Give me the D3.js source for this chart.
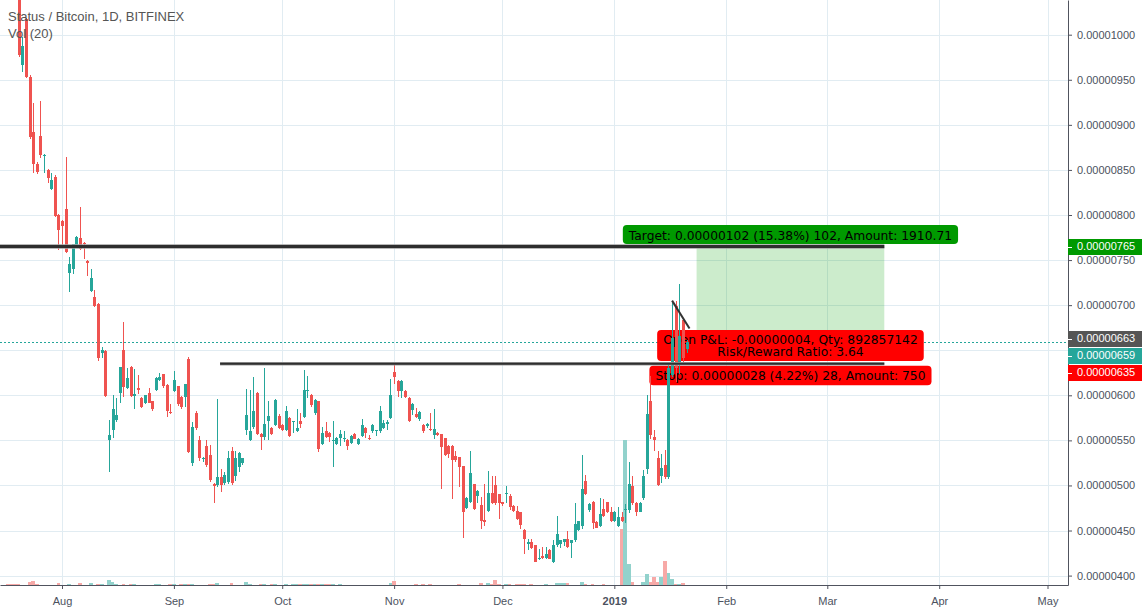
<!DOCTYPE html>
<html><head><meta charset="utf-8">
<script src="https://cdn.jsdelivr.net/npm/d3@7"></script>
<style>
html,body{margin:0;padding:0;background:#fff;overflow:hidden}
svg{display:block}
text{font-family:"Liberation Sans",Arial,sans-serif}
</style></head><body>
<svg id="chart" width="1144" height="610"></svg>
<script>
// ---------------- DATA (prices in satoshi = 1e-8 BTC), daily from startDate ----------------
const startDate = "2018-07-16";
const open = [
1120,1100,1085,1070,1052,966,1017,953,892,857,888,866,850,829,842,800,
793,807,736,740,767,775,769,749,716,709,
701,647,649,550,561,573,602,650,608,631,
599,608,597,592,603,594,606,617,624,611,
581,605,610,598,598,640,525,580,550,530,
544,534,502,500,509,503,504,538,510,521,
525,561,550,565,603,557,554,572,564,567,
577,567,562,575,570,560,572,576,605,600,
580,594,546,560,558,549,546,553,552,550,
547,557,546,555,564,553,560,560,560,564,
568,575,626,616,605,605,597,584,579,574,
567,566,563,556,558,557,553,544,544,533,
532,522,475,482,502,488,478,462,472,492,
501,491,482,491,488,477,472,471,451,435,
437,434,418,422,419,428,415,434,435,437,
441,436,439,451,455,505,473,482,460,455,
474,482,471,461,455,465,473,473,499,481,
471,486,518,594,554,531,511,523,509,623,
699,635,684,651];
const high = [
1135,1110,1098,1080,1060,998,1019,955,924,859,926,868,851,847,844,801,
794,864,753,768,777,809,770,750,740,717,
702,654,650,573,600,597,631,681,630,632,
629,623,598,600,608,594,620,625,624,612,
590,627,610,599,613,642,570,583,555,532,
550,545,503,596,518,515,538,543,538,537,
531,607,606,620,604,558,630,594,565,596,
579,568,588,576,571,585,580,628,621,601,
596,594,565,570,559,572,554,562,560,551,
556,558,553,574,565,556,568,561,588,573,
573,618,634,617,617,606,598,591,586,583,
568,569,580,585,559,557,553,545,545,538,
532,522,487,538,502,495,487,502,516,511,
511,491,482,499,490,478,477,471,452,441,
441,434,430,432,432,429,439,466,440,441,
450,440,481,461,534,512,481,483,461,486,
485,482,476,472,476,471,479,526,511,482,
482,517,600,621,562,538,535,539,634,702,
705,724,685,661];
const low = [
1090,1068,1060,1046,975,959,952,884,847,846,863,847,835,828,798,761,
765,758,715,735,765,761,751,732,715,698,
638,641,598,515,553,570,592,598,607,598,
585,601,586,590,591,583,605,616,608,576,
579,604,588,585,587,536,522,562,527,526,
520,504,481,498,493,501,502,501,505,515,
523,556,549,563,556,539,550,550,556,566,
563,560,560,554,558,559,564,575,597,587,
578,537,545,553,548,520,545,544,548,539,
546,551,545,554,553,550,558,555,558,563,
562,574,613,598,597,597,570,578,575,572,
558,564,560,552,555,496,533,531,485,526,
498,442,474,480,473,480,452,455,470,479,
478,463,477,481,473,470,462,452,424,428,
430,415,417,418,418,418,414,432,431,433,
431,420,437,450,452,489,471,452,453,454,
465,469,460,460,454,460,458,469,478,466,
470,484,513,552,538,499,503,507,507,620,
615,624,637,647];
const close = [
1100,1085,1070,1052,977,987,953,886,857,848,867,867,841,839,799,783,
788,759,746,768,776,762,768,747,730,699,
641,650,599,556,585,578,631,609,619,599,
601,606,587,600,592,585,619,620,610,583,
580,617,590,587,612,537,565,564,530,531,
523,506,499,509,501,512,530,503,530,536,
530,578,560,583,557,554,568,577,557,595,
564,562,583,555,571,564,568,606,606,589,
595,540,558,554,554,550,553,557,553,544,
555,552,552,567,558,551,567,561,583,569,
570,600,620,605,616,598,572,590,576,582,
560,568,561,563,556,543,534,535,528,528,
521,471,486,514,474,494,461,459,492,480,
481,480,479,492,476,472,463,456,441,437,
431,415,420,419,424,418,434,446,440,441,
432,440,457,461,496,491,479,458,453,468,
466,470,461,471,465,461,474,502,480,471,
481,511,579,556,550,501,519,509,630,664,
630,666,641,659];
const volume = [ // millions SNT (estimated)
0.5,1,1,1,1,0.5,0.5,3,4,1,0.5,0.5,0.5,0.5,0.5,2,
0.5,0.5,1,0.5,0.5,2,0.5,0.5,2,0.5,
1,1,0.5,5,3,1,0.5,1,0.5,1,
1,0.5,0.5,0.5,0.5,0.5,1,1,0.5,0.5,
1,1,0.5,1,1,1,1,0.5,0.5,0.5,
0.5,1,1,2,0.5,0.5,0.5,2,0.5,0.5,
0.5,3,1,0.5,0.5,1,1,0.5,1,1,
0.5,0.5,1,0.5,1,1,1,1,1,1,
1,1,1,1,1,1,0.5,1,0.5,0.5,
0.5,0.5,0.5,0.5,0.5,0.5,0.5,0.5,0.5,0.5,
0.5,2,4,0.5,0.5,0.5,0.5,0.5,1,0.5,
1,0.5,1,0.5,0.5,0.5,0.5,0.5,0.5,0.5,
1,0.5,0.5,0.5,0.5,0.5,2.5,0.5,2.5,1,
5,1,0.5,1,1,0.5,1,1,1,0.5,
1,0.5,0.5,0.5,1,0.5,0.5,2,2,2,
2,0.5,0.5,0.5,3,1,0.5,1,0.5,0.5,
1,0.5,0.5,0.5,0.5,56,145,21,3,0.5,
0.5,3,11,3,8,3,8,24,12,6,
1,1,2,0.5];

const priceTicks = [400,450,500,550,600,650,700,750,800,850,900,950,1000];
const hiddenTickLabels = [650];
const lastPrice = 659;

// position tool (long): entry / target / stop
const entryPrice = 663, targetPrice = 765, stopPrice = 635;
const toolStart = "2019-01-23 19:00", toolEnd = "2019-03-16 19:00";
const resistanceStart = "2018-07-01 00:00";
const supportStart = "2018-09-13 19:00";
const trendLine = [["2019-01-17 00:00", 705], ["2019-01-21 20:00", 674]];

const axisLabelPrices = [765, 663, 659, 635];
const axisLabelColors = ["#009900", "#555555", "#26a69a", "#ff0000"];

const targetText = "Target: 0.00000102 (15.38%) 102, Amount: 1910.71";
const pnlLines = ["Open P&L: -0.00000004, Qty: 892857142", "Risk/Reward Ratio: 3.64"];
const stopText = "Stop: 0.00000028 (4.22%) 28, Amount: 750";
const titleText = "Status / Bitcoin, 1D, BITFINEX";
const volText = "Vol (20)";

// ---------------- CHART ----------------
const UP = "#26a69a", DOWN = "#ef5350";
const UPV = "#92d2cc", DOWNV = "#f7a9a7";
const GRID = "#e1ecf2", AXIS = "#50535e", TXT = "#4c525e";
const paneW = 1068, paneH = 585;

const svg = d3.select("#chart");
const parse = d3.timeParse("%Y-%m-%d");
const parseT = d3.timeParse("%Y-%m-%d %H:%M");
const t0 = parse(startDate);
const dates = open.map((_, i) => d3.timeDay.offset(t0, i));

const x = d3.scaleTime().domain([parse("2018-08-01"), parse("2019-05-01")]).range([62, 1047.5]);
const xView = x.copy().domain([x.invert(0), x.invert(paneW)]).range([0, paneW]);
const y = d3.scaleLinear().domain([400, 800]).range([575.6, 215]);
const yView = y.copy().domain([y.invert(paneH), y.invert(0)]).range([paneH, 0]);
const yv = d3.scaleLinear().domain([0, d3.max(volume)]).range([paneH, paneH - 145]);
const dayW = x(parse("2018-08-02")) - x(parse("2018-08-01"));

svg.append("defs").append("clipPath").attr("id", "pane")
  .append("rect").attr("width", paneW).attr("height", paneH);
const pane = svg.append("g").attr("clip-path", "url(#pane)");

// grid
pane.append("g").selectAll("line").data(priceTicks).join("line")
  .attr("x1", 0).attr("x2", paneW)
  .attr("y1", d => Math.round(y(d)) + 0.5).attr("y2", d => Math.round(y(d)) + 0.5)
  .attr("stroke", GRID);
const months = xView.ticks(d3.timeMonth.every(1));
pane.append("g").selectAll("line").data(months).join("line")
  .attr("y1", 0).attr("y2", paneH)
  .attr("x1", d => Math.round(xView(d)) + 0.5).attr("x2", d => Math.round(xView(d)) + 0.5)
  .attr("stroke", GRID);

// volume
const up = i => close[i] >= open[i];
pane.append("g").attr("shape-rendering", "crispEdges").selectAll("rect").data(volume).join("rect")
  .attr("x", (v, i) => Math.round(x(dates[i]) - dayW / 2))
  .attr("width", (v, i) => Math.round(x(dates[i]) + dayW / 2) - Math.round(x(dates[i]) - dayW / 2))
  .attr("y", v => yv(v)).attr("height", v => paneH - yv(v))
  .attr("fill", (v, i) => up(i) ? UPV : DOWNV);

// position tool target zone
const tx0 = x(parseT(toolStart)), tx1 = x(parseT(toolEnd));
pane.append("rect")
  .attr("x", tx0).attr("width", tx1 - tx0)
  .attr("y", y(targetPrice)).attr("height", y(entryPrice) - y(targetPrice))
  .attr("fill", "rgba(0,160,0,0.2)");

// last price dotted line
pane.append("line").attr("x1", 0).attr("x2", paneW)
  .attr("y1", Math.round(y(lastPrice)) + 0.5).attr("y2", Math.round(y(lastPrice)) + 0.5)
  .attr("stroke", UP).attr("stroke-dasharray", "2,2");

// position labels
const tcx = (tx0 + tx1) / 2;
function label(lines, top, h, baselines, fill) {
  const g = pane.append("g");
  const r = g.append("rect");
  let w = 0;
  lines.forEach((s, k) => {
    const t = g.append("text").text(s).attr("x", tcx).attr("y", top + baselines[k])
      .attr("text-anchor", "middle").attr("fill", "#000")
      .style("font-family", "'DejaVu Sans',Verdana,sans-serif").style("font-size", "12.3px");
    w = Math.max(w, t.node().getComputedTextLength());
  });
  r.attr("x", tcx - w / 2 - 6).attr("width", w + 12).attr("y", top).attr("height", h)
    .attr("rx", 4).attr("fill", fill);
}
label([targetText], y(targetPrice) - 21.5, 19, [14.5], "#009900");
label(pnlLines, y(entryPrice) - 8.5, 31, [13.8, 26.4], "#ff0000");
label([stopText], y(stopPrice) + 2, 19.5, [14], "#ff0000");

// candles
const cg = pane.append("g").attr("shape-rendering", "crispEdges");
const bodyW = Math.max(1, Math.round(dayW * 0.8));
dates.forEach((d, i) => {
  const cx = Math.round(x(d));
  const col = up(i) ? UP : DOWN;
  const hy = Math.round(y(high[i])), ly = Math.round(y(low[i]));
  cg.append("rect").attr("x", cx).attr("width", 1).attr("y", hy).attr("height", Math.max(1, ly - hy)).attr("fill", col);
  const bt = Math.round(y(Math.max(open[i], close[i]))), bb = Math.round(y(Math.min(open[i], close[i])));
  cg.append("rect").attr("x", cx - 1).attr("width", bodyW).attr("y", bt).attr("height", Math.max(1, bb - bt)).attr("fill", col);
});

// drawings
function hline(p, from, to, w) {
  const yy = y(p);
  pane.append("line").attr("x1", x(parseT(from))).attr("x2", to).attr("y1", yy).attr("y2", yy)
    .attr("stroke", "#a0a0a0").attr("stroke-width", w + 1.5);
  pane.append("line").attr("x1", x(parseT(from))).attr("x2", to).attr("y1", yy).attr("y2", yy)
    .attr("stroke", "#2e2e2e").attr("stroke-width", w);
}
hline(targetPrice, resistanceStart, tx1, 3);
hline(stopPrice, supportStart, tx1, 2);
pane.append("line")
  .attr("x1", x(parseT(trendLine[0][0]))).attr("y1", y(trendLine[0][1]))
  .attr("x2", x(parseT(trendLine[1][0]))).attr("y2", y(trendLine[1][1]))
  .attr("stroke", "#333").attr("stroke-width", 2);

// axes
const yAxis = d3.axisRight(yView)
  .tickValues(priceTicks.filter(v => !hiddenTickLabels.includes(v)))
  .tickSize(4).tickSizeOuter(0).tickPadding(5)
  .tickFormat(v => (v / 1e8).toFixed(8));
const gy = svg.append("g").attr("transform", `translate(${paneW},0)`).call(yAxis);
gy.select(".domain").attr("stroke", AXIS);
gy.selectAll(".tick line").attr("stroke", AXIS);
gy.selectAll(".tick text").attr("fill", TXT).style("font-size", "11px")
  .style("font-family", "'Liberation Sans',Arial,sans-serif");

const xAxis = d3.axisBottom(xView).ticks(d3.timeMonth.every(1))
  .tickSize(4).tickSizeOuter(0).tickPadding(8)
  .tickFormat(d => d.getMonth() === 0 ? d3.timeFormat("%Y")(d) : d3.timeFormat("%b")(d));
const gx = svg.append("g").attr("transform", `translate(0,${paneH})`).call(xAxis);
gx.select(".domain").attr("stroke", AXIS);
gx.selectAll(".tick line").attr("stroke", AXIS);
gx.selectAll(".tick text").attr("fill", TXT).style("font-size", "11px")
  .style("font-family", "'Liberation Sans',Arial,sans-serif")
  .style("font-weight", d => d.getMonth() === 0 ? "bold" : "normal");

// axis price labels (stacked to avoid overlap)
const al = svg.append("g");
let prev = -Infinity;
axisLabelPrices.map((p, i) => ({ p, c: axisLabelColors[i] }))
  .sort((a, b) => b.p - a.p)
  .forEach(o => {
    const cy = Math.max(y(o.p), prev + 17);
    prev = cy;
    al.append("rect").attr("x", paneW).attr("width", 74).attr("y", Math.round(cy - 8)).attr("height", 16).attr("fill", o.c);
    al.append("line").attr("x1", paneW).attr("x2", paneW + 4).attr("y1", Math.round(cy) + 0.5).attr("y2", Math.round(cy) + 0.5).attr("stroke", "#fff");
    al.append("text").attr("x", paneW + 9).attr("y", cy).attr("dy", "0.35em")
      .attr("fill", "#fff").style("font-size", "11px").text((o.p / 1e8).toFixed(8));
  });

// legend
svg.append("text").attr("x", 8).attr("y", 21).attr("fill", "#555").style("font-size", "13px").text(titleText);
svg.append("text").attr("x", 8).attr("y", 37.5).attr("fill", "#555").style("font-size", "13px").text(volText);
</script>
</body></html>
